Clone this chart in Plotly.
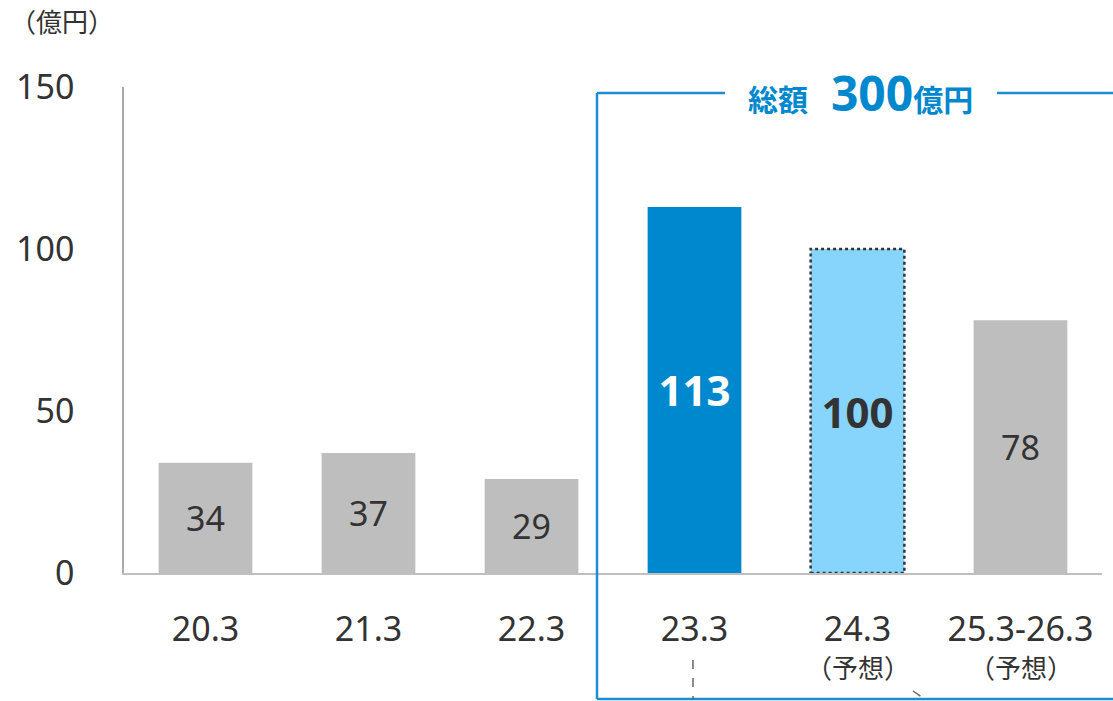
import plotly.graph_objects as go

# Fiscal periods and investment amounts (億円)
periods = ["20.3", "21.3", "22.3", "23.3", "24.3", "25.3-26.3"]
amounts = [34, 37, 29, 113, 100, 78]
forecast_note = ["", "", "", "", "（予想）", "（予想）"]
bar_colors = ["#BEBEBE", "#BEBEBE", "#BEBEBE", "#0088CE", "#87D4FC", "#BEBEBE"]
label_colors = ["#333333", "#333333", "#333333", "#FFFFFF", "#333333", "#333333"]
label_sizes = [34, 34, 34, 42, 42, 34]
label_bold = [False, False, False, True, True, False]
y_ticks = [0, 50, 100, 150]

BAR_W = 0.575
FONT = "Noto Sans, Noto Sans CJK JP, sans-serif"
BLUE = "#1A8ED1"

W, H = 1113, 701
L, R, T, B = 124, 11, 87, 128
pw, ph = W - L - R, H - T - B


def px(x):
    return (x - L) / pw


def py(y):
    return (H - B - y) / ph


labels = [f"<b>{v}</b>" if b else str(v) for v, b in zip(amounts, label_bold)]

fig = go.Figure(
    go.Bar(
        x=list(range(len(periods))),
        y=amounts,
        width=BAR_W,
        marker=dict(color=bar_colors, line=dict(width=0)),
        text=labels,
        textposition="inside",
        insidetextanchor="middle",
        textangle=0,
        textfont=dict(color=label_colors, size=label_sizes, family=FONT),
        hoverinfo="skip",
    )
)

# dotted outline around the 24.3 forecast bar
i4 = periods.index("24.3")
fig.add_shape(
    type="rect", xref="x", yref="y",
    x0=i4 - BAR_W / 2, x1=i4 + BAR_W / 2, y0=0, y1=amounts[i4],
    line=dict(color="#333333", width=2.5, dash="dot"),
)

# forecast notes under the period labels
for i, note in enumerate(forecast_note):
    if note:
        fig.add_annotation(
            x=i, y=py(668), xref="x", yref="paper", text=note, showarrow=False,
            xanchor="center", yanchor="middle",
            font=dict(size=26, color="#333333", family=FONT),
        )

# blue bracket frame around the 300億円 total
frame = [
    (px(597), py(93), px(597), py(699)),
    (px(597), py(699), px(1125), py(699)),
    (px(597), py(93), px(725), py(93)),
    (px(997), py(93), px(1125), py(93)),
]
for x0, y0, x1, y1 in frame:
    fig.add_shape(type="line", xref="paper", yref="paper",
                  x0=x0, y0=y0, x1=x1, y1=y1,
                  line=dict(color=BLUE, width=2.5))

fig.add_annotation(
    x=px(860), y=py(92), xref="paper", yref="paper", showarrow=False,
    text=("<b><span style='font-size:30px'>総額</span>"
          "<span style='font-size:44px'>  </span>"
          "<span style='font-size:48px'>300</span>"
          "<span style='font-size:30px'>億円</span></b>"),
    font=dict(color="#0088CE", family=FONT, size=30),
    xanchor="center", yanchor="middle",
)

# small connector fragments below the axis
fig.add_shape(type="line", xref="paper", yref="paper",
              x0=px(693), y0=py(660), x1=px(693), y1=py(700),
              line=dict(color="#666666", width=1.5, dash="dash"))
fig.add_shape(type="line", xref="paper", yref="paper",
              x0=px(913), y0=py(691), x1=px(926), y1=py(700),
              line=dict(color="#666666", width=1.5, dash="dash"))

# unit label
fig.add_annotation(
    x=px(8), y=py(22), xref="paper", yref="paper", text="（億円）",
    showarrow=False, xanchor="left", yanchor="middle",
    font=dict(size=26, color="#333333", family=FONT),
)

fig.update_layout(
    width=W, height=H,
    margin=dict(l=L, r=R, t=T, b=B),
    plot_bgcolor="white", paper_bgcolor="white",
    showlegend=False,
    font=dict(family=FONT, color="#333333"),
)
fig.update_xaxes(
    range=[-0.5, len(periods) - 0.5],
    tickvals=list(range(len(periods))), ticktext=periods,
    tickfont=dict(size=34, color="#333333", family=FONT),
    showline=True, linecolor="#BFBFBF", linewidth=2,
    showgrid=False, zeroline=False, ticks="", ticklabelstandoff=25,
)
fig.update_yaxes(
    range=[0, 150], tickvals=y_ticks,
    tickfont=dict(size=34, color="#333333", family=FONT),
    showline=True, linecolor="#ABABAB", linewidth=1.5,
    showgrid=False, zeroline=False, ticks="", ticklabelstandoff=41,
)

fig.write_html("out.html")
